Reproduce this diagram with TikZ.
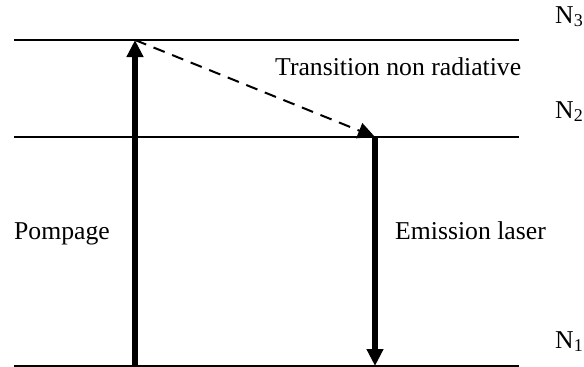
\documentclass[tikz,border=0pt]{standalone}
\usepackage{fontspec}
\setmainfont{Liberation Serif}
\usetikzlibrary{arrows.meta}
\begin{document}
\begin{tikzpicture}[x=1pt,y=-1pt,
  level/.style={line width=1.5pt},
  bigarrow/.style={line width=6pt,-{Triangle[length=17pt,width=16pt]}},
  nrarrow/.style={line width=2pt,dash pattern=on 12pt off 8pt,-{Triangle[length=17pt,width=16pt]}},
  lbl/.style={inner sep=0pt,anchor=base west,font=\fontsize{25.7}{30}\selectfont}]
\useasboundingbox (0,0) rectangle (584,367);
% levels
\coordinate (L3a) at (14,40);  \coordinate (L3b) at (519,40);
\coordinate (L2a) at (14,137); \coordinate (L2b) at (519,137);
\coordinate (L1a) at (14,366); \coordinate (L1b) at (519,366);
\draw[level] (L3a) -- (L3b);
\draw[level] (L2a) -- (L2b);
\draw[level] (L1a) -- (L1b);
% arrow endpoints
\coordinate (pb) at (135,366);
\coordinate (pt) at (135,40);
\coordinate (et) at (375,137);
\coordinate (eb) at (375,366);
\draw[bigarrow] (pb) -- (pt);
\draw[bigarrow] (et) -- (eb);
\draw[nrarrow] (pt) -- (et);
% labels
\node[lbl] (tr) at (275,75) {Transition non radiative};
\node[lbl] (po) at (14,239) {Pompage};
\node[lbl] (em) at (395,239) {Emission laser};
\node[lbl] (n3) at (555,23) {N\textsubscript{3}};
\node[lbl] (n2) at (555,118) {N\textsubscript{2}};
\node[lbl] (n1) at (555,348) {N\textsubscript{1}};
\end{tikzpicture}
\end{document}
